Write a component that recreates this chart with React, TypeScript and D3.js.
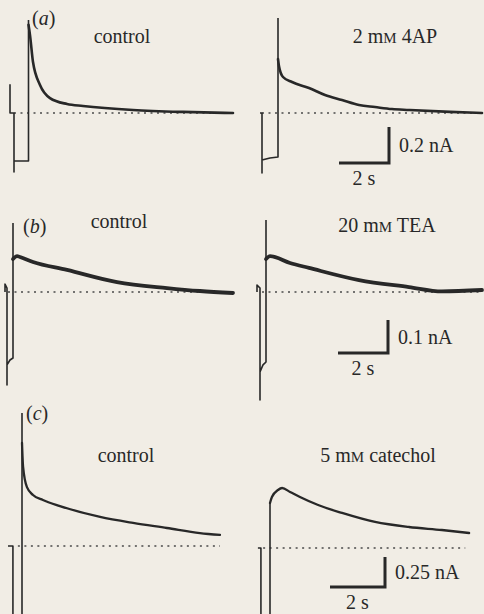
import * as d3 from "d3";

// time in s (0 = end of the hyperpolarising step), current in nA above holding level

// (a) control
const aCtrlStepT = [-0.74, -0.74, -0.74, -0.58, -0.58, -0.58, 0, 0];
const aCtrlStepI = [0, 0.156, 0, 0, -0.328, -0.267, -0.267, 0.517];
const aCtrlDecayT = [0, 0.06, 0.18, 0.46, 0.86, 1.54, 2.18, 4.18, 6.18, 8.18];
const aCtrlDecayI = [0.49, 0.433, 0.283, 0.156, 0.083, 0.05, 0.039, 0.017, 0.006, 0];

// (a) 2 mM 4AP
const a4apStepT = [-0.72, -0.64, -0.64, -0.64, -0.32, 0, 0];
const a4apStepI = [0, 0, -0.333, -0.261, -0.25, -0.244, 0.528];
const a4apDecayT = [0, 0.04, 0.2, 0.56, 1.24, 1.88, 2.56, 3.24, 3.88, 4.56, 5.24, 6.88, 8.16];
const a4apDecayI = [0.3, 0.26, 0.2, 0.172, 0.139, 0.1, 0.072, 0.044, 0.033, 0.022, 0.017, 0.006, 0];

// (b) control
const bCtrlStepT = [-0.32, -0.32, -0.24, -0.24, -0.24, -0.12, 0, 0];
const bCtrlStepI = [0, 0.024, 0.012, -0.282, -0.221, -0.206, -0.2, 0.209];
const bCtrlDecayT = [0, 0.16, 0.28, 0.8, 2.16, 4.16, 6.16, 7.48, 8.8];
const bCtrlDecayI = [0.1, 0.109, 0.106, 0.091, 0.067, 0.03, 0.012, 0.003, -0.003];

// (b) 20 mM TEA
const bTeaStepT = [-0.36, -0.36, -0.24, -0.24, -0.24, -0.12, 0, 0];
const bTeaStepI = [0, 0.021, 0.012, -0.327, -0.242, -0.221, -0.212, 0.218];
const bTeaDecayT = [0, 0.16, 0.96, 1.72, 3.72, 5.72, 7.04, 8.64];
const bTeaDecayI = [0.1, 0.109, 0.088, 0.073, 0.036, 0.015, 0.002, 0.006];

// (c) control
const cCtrlStepT = [-0.51, -0.33, -0.33, 0, 0];
const cCtrlStepI = [0, 0, -0.78, -0.78, 1.108];
const cCtrlDecayT = [0, 0.04, 0.18, 0.4, 0.76, 1.38, 2.84, 4.04, 5.27, 6.47, 7.2];
const cCtrlDecayI = [0.86, 0.66, 0.49, 0.425, 0.383, 0.333, 0.242, 0.192, 0.15, 0.108, 0.092];

// (c) 5 mM catechol
const cCatStepT = [-0.44, -0.33, -0.33, 0, 0];
const cCatStepI = [0, 0, -0.77, -0.77, 0.375];
const cCatDecayT = [0, 0.07, 0.29, 0.44, 0.73, 1.09, 1.75, 2.62, 3.82, 5.05, 6.25, 7.24];
const cCatDecayI = [0.375, 0.425, 0.483, 0.5, 0.467, 0.425, 0.358, 0.292, 0.217, 0.175, 0.15, 0.125];

// dotted zero-current lines [start, end] in s
const baselineSpans = [[-0.58, 8.18], [-0.64, 8.16], [-0.2, 8.8], [-0.16, 8.64], [-0.15, 7.2], [-0.25, 7.1]];

// calibration bars per row
const barSeconds = [2, 2, 2];
const barNanoAmps = [0.2, 0.1, 0.25];
const barLabels = ["0.2 nA", "0.1 nA", "0.25 nA"];

const W = 484;
const H = 614;
const BG = "#f1ede5";
const INK = "#282828";

const rows = [
  { pxPerS: 25, pxPerNA: 180, bar: [389, 163], decayW: 2.6 },
  { pxPerS: 25, pxPerNA: 330, bar: [388, 353], decayW: 3.8 },
  { pxPerS: 27.5, pxPerNA: 120, bar: [385, 587], decayW: 2.3 },
];

const panels = [
  { row: 0, x0: 28.5, y0: 113, stepT: aCtrlStepT, stepI: aCtrlStepI, decT: aCtrlDecayT, decI: aCtrlDecayI },
  { row: 0, x0: 278, y0: 113, stepT: a4apStepT, stepI: a4apStepI, decT: a4apDecayT, decI: a4apDecayI },
  { row: 1, x0: 13, y0: 292, stepT: bCtrlStepT, stepI: bCtrlStepI, decT: bCtrlDecayT, decI: bCtrlDecayI },
  { row: 1, x0: 266, y0: 292, stepT: bTeaStepT, stepI: bTeaStepI, decT: bTeaDecayT, decI: bTeaDecayI },
  { row: 2, x0: 22, y0: 546, stepT: cCtrlStepT, stepI: cCtrlStepI, decT: cCtrlDecayT, decI: cCtrlDecayI },
  { row: 2, x0: 270, y0: 548, stepT: cCatStepT, stepI: cCatStepI, decT: cCatDecayT, decI: cCatDecayI },
];

const FONT = "'Liberation Serif', 'DejaVu Serif', serif";
const FS = 20;

function Trace({ p }: { p: (typeof panels)[number] }) {
  const r = rows[p.row];
  const x = d3.scaleLinear().domain([0, 1]).range([p.x0, p.x0 + r.pxPerS]);
  const y = d3.scaleLinear().domain([0, 1]).range([p.y0, p.y0 - r.pxPerNA]);
  const step = d3.line<number>().x((t) => x(t)).y((_, i) => y(p.stepI[i]));
  const decay = d3
    .line<number>()
    .x((t) => x(t))
    .y((_, i) => y(p.decI[i]))
    .curve(d3.curveMonotoneX);
  const span = baselineSpans[panels.indexOf(p)];
  return (
    <g>
      <line x1={x(span[0])} x2={x(span[1])} y1={y(0)} y2={y(0)} stroke="#4a4a4a" strokeWidth={1.7} strokeDasharray="2 4.5" />
      <path d={step(p.stepT) || ""} fill="none" stroke={INK} strokeWidth={1.6} strokeLinejoin="round" />
      <path d={decay(p.decT) || ""} fill="none" stroke={INK} strokeWidth={r.decayW} strokeLinejoin="round" strokeLinecap="round" />
    </g>
  );
}

function ScaleBar({ row }: { row: number }) {
  const r = rows[row];
  const [cx, cy] = r.bar;
  const sx = d3.scaleLinear().domain([0, barSeconds[row]]).range([cx - barSeconds[row] * r.pxPerS, cx]);
  const sy = d3.scaleLinear().domain([0, barNanoAmps[row]]).range([cy, cy - barNanoAmps[row] * r.pxPerNA]);
  return (
    <g fontFamily={FONT} fontSize={FS} fill={INK}>
      <path
        d={`M${sx(0)},${cy}H${sx(barSeconds[row])}V${sy(barNanoAmps[row])}`}
        fill="none"
        stroke={INK}
        strokeWidth={3}
      />
      <text x={cx + 10} y={(cy + sy(barNanoAmps[row])) / 2 + 7}>{barLabels[row]}</text>
      <text x={(sx(0) + cx) / 2} y={cy + 22} textAnchor="middle">
        {barSeconds[row]} s
      </text>
    </g>
  );
}

function Title({ x, y, pre, post }: { x: number; y: number; pre?: string; post?: string }) {
  if (!pre) {
    return (
      <text x={x} y={y} textAnchor="middle">
        control
      </text>
    );
  }
  return (
    <text x={x} y={y} textAnchor="middle">
      {pre} m<tspan fontSize={15}>M</tspan> {post}
    </text>
  );
}

function Letter({ x, y, l }: { x: number; y: number; l: string }) {
  return (
    <text x={x} y={y}>
      (<tspan fontStyle="italic">{l}</tspan>)
    </text>
  );
}

export default function App() {
  return (
    <svg width={W} height={H} style={{ position: "absolute", left: 0, top: 0 }}>
      <rect width={W} height={H} fill={BG} />
      {panels.map((p, i) => (
        <Trace key={i} p={p} />
      ))}
      {[0, 1, 2].map((r) => (
        <ScaleBar key={r} row={r} />
      ))}
      <g fontFamily={FONT} fontSize={FS} fill={INK}>
        <Title x={122} y={43} />
        <Title x={395} y={43} pre="2" post="4AP" />
        <Title x={119} y={228} />
        <Title x={387} y={232} pre="20" post="TEA" />
        <Title x={126} y={462} />
        <Title x={378} y={462} pre="5" post="catechol" />
        <Letter x={32} y={25} l="a" />
        <Letter x={23} y={233} l="b" />
        <Letter x={26} y={420} l="c" />
      </g>
    </svg>
  );
}
